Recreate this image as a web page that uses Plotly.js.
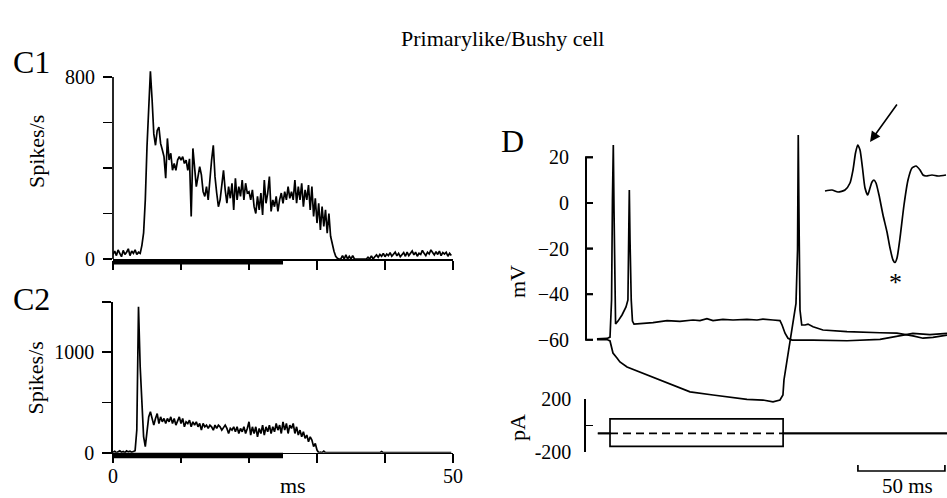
<!DOCTYPE html>
<html>
<head>
<meta charset="utf-8">
<script src="https://cdn.plot.ly/plotly-3.0.1.min.js"></script>
<style>
html,body{margin:0;padding:0;background:#fff;}
#chart{width:947px;height:498px;}
</style>
</head>
<body>
<div id="chart"></div>
<script>
// ---------------- DATA ----------------
// C1 PSTH (spikes/s), 0.25 ms bins starting at 0 ms
const c1BinMs = 0.25;
const c1Rates = [
  20, 35, 15, 40, 25, 10, 38, 20, 30, 45,
  15, 35, 25, 40, 20, 30, 25, 60, 115, 260,
  494, 700, 825, 700, 550, 500, 565, 580, 508, 480,
  450, 355, 530, 435, 465, 390, 420, 390, 435, 450,
  435, 450, 420, 435, 390, 440, 187, 486, 390, 318,
  362, 406, 370, 296, 275, 318, 260, 370, 435, 500,
  362, 290, 230, 260, 333, 390, 304, 245, 318, 267,
  333, 216, 355, 260, 318, 275, 347, 260, 333, 290,
  296, 260, 304, 230, 200, 275, 216, 290, 194, 347,
  245, 290, 362, 209, 260, 230, 275, 209, 260, 290,
  245, 296, 260, 318, 267, 296, 260, 347, 245, 318,
  260, 333, 230, 304, 260, 325, 216, 318, 187, 267,
  158, 245, 128, 230, 143, 216, 114, 200, 100, 63,
  34, 12, 3, 0, 0, 15, 0, 18, 0, 12,
  0, 15, 0, 0, 0, 0, 0, 0, 0, 0,
  8, 0, 14, 0, 10, 18, 8, 20, 12, 25,
  10, 22, 15, 28, 12, 20, 30, 14, 25, 10,
  22, 28, 12, 30, 15, 25, 35, 18, 30, 12,
  25, 20, 38, 25, 15, 30, 22, 40, 28, 18,
  32, 20, 35, 15, 28, 22, 30, 12, 25, 15
];
// C2 PSTH (spikes/s), 0.25 ms bins
const c2BinMs = 0.25;
const c2Rates = [
  5, 15, 0, 10, 20, 5, 12, 0, 18, 8,
  15, 5, 10, 20, 225, 1450, 850, 420, 160, 60,
  225, 356, 406, 323, 274, 340, 389, 290, 356, 307,
  340, 290, 340, 307, 356, 290, 340, 274, 323, 356,
  290, 340, 257, 307, 290, 323, 257, 307, 274, 307,
  257, 290, 224, 290, 257, 274, 241, 274, 257, 224,
  274, 241, 274, 257, 224, 257, 274, 241, 191, 241,
  224, 257, 208, 257, 191, 241, 208, 257, 191, 241,
  307, 175, 257, 191, 257, 158, 241, 191, 274, 175,
  257, 208, 274, 191, 257, 208, 290, 224, 274, 191,
  307, 224, 290, 191, 274, 241, 290, 191, 257, 175,
  224, 158, 208, 142, 175, 109, 158, 125, 60, 92,
  26, 0, 5, 0, 15, 0, 0, 0, 0, 0,
  0, 0, 0, 0, 0, 0, 0, 0, 0, 0,
  0, 0, 0, 0, 0, 0, 0, 0, 0, 0,
  0, 0, 0, 0, 0, 0, 0, 0, 12, 0,
  0, 0, 0, 0, 0, 0, 0, 0, 0, 0,
  0, 0, 0, 0, 0, 0, 0, 0, 0, 0,
  0, 0, 0, 0, 0, 0, 0, 0, 0, 0,
  0, 0, 0, 0, 0, 0, 0, 0, 0, 0
];
const stimulusMs = [0, 25];           // tone burst bar under the PSTHs
const psthTicksMs = [0, 10, 20, 30, 40, 50];
const c1Ticks = [0, 200, 400, 600, 800];
const c1TickText = ['0', '', '', '', '800'];
const c2Ticks = [0, 500, 1000, 1500];
const c2TickText = ['0', '', '1000', ''];
const c2XTickText = ['0', '', '', '', '', '50'];

// D: membrane potential (ms, mV) – depolarizing current step
const vDepT  = [-7.5, -1.7, 0, 0.9, 1.4, 1.9, 2.3, 2.8, 3.2, 4.6, 6.9, 9.2, 10.3, 10.8, 11.1, 11.5, 12.2, 12.9, 13.8,
                24.7, 32.8, 40.2, 47.7, 51.7, 55.7, 59.2, 64.9, 70.7, 78.7, 84.5, 87.9, 93.7, 97.7, 98.9, 100.6, 102.3,
                104.6, 116.7, 136.2, 155.2, 164.9, 174.1, 183.9, 193.7];
const vDepMv = [-59.6, -59.4, -58.8, -42.5, 1.3, 25.4, -3.1, -42.5, -53.1, -51.8, -49.1, -45.6, -42.5, -11.8, 5.7, -16.2, -42.5, -51.8, -53.1,
                -52.5, -51.6, -51.9, -51.3, -51.6, -50.7, -51.6, -51.0, -51.3, -51.0, -51.3, -50.9, -51.3, -51.6, -53.5, -57.1, -59.3,
                -60.1, -60.1, -60.4, -59.8, -58.3, -57.2, -57.7, -57.2];
// D: membrane potential – hyperpolarizing current step with rebound spike
const vHypT  = [-7.5, -1.7, 0, 1.7, 4.0, 5.7, 9.8, 17.2, 28.7, 40.2, 46.0, 59.2, 69.0, 78.7, 87.9, 93.7, 97.7, 99.4, 100.0,
                101.7, 103.4, 105.2, 106.9, 107.8, 108.2, 108.7, 109.2, 110.2, 112.1, 113.8, 116.7, 122.4, 136.2, 155.2,
                164.9, 174.1, 179.9, 185.6, 193.7];
const vHypMv = [-59.9, -59.9, -60.5, -65.8, -68.0, -69.7, -71.9, -74.1, -77.6, -80.8, -82.8, -84.2, -85.2, -86.1, -86.4, -87.2, -86.4, -84.2, -77.6,
                -68.9, -60.1, -51.3, -44.0, -20.6, 29.8, -11.8, -46.9, -53.5, -53.5, -53.1, -54.3, -55.7, -56.4, -56.9,
                -57.1, -58.3, -59.3, -58.9, -57.9];
const mvTicks = [-60, -40, -20, 0, 20];
// D: injected current (ms, pA)
const currentT     = [-7, 0, 0, 99.5, 99.5, 193.7];
const currentDepPa = [-60, -60, 50, 50, -60, -60];
const currentHypPa = [-60, -60, -160, -160, -60, -60];
const holdingT  = [0, 99.5];
const holdingPa = [-60, -60];
const paTicks = [-200, 0, 200];
const paTickText = ['-200', '', '200'];
// D: 50 ms scale bar
const scaleBarT = [142.5, 142.5, 192.5, 192.5];
const scaleBarY = [1, 0, 0, 1];
// D inset: action potential waveform (arbitrary time / amplitude units)
const spikeT = [0, 7, 13, 20, 25, 28, 30.5, 32.7, 35, 37.5, 40, 42.7, 45, 47, 49, 51, 54, 58, 62, 65, 68, 70, 72, 75, 79, 83, 87, 91, 95, 98, 101, 107, 113, 121];
const spikeV = [0, 1, -1, 1, 8, 21, 38, 46, 41, 23, 3, -4, 3, 9, 11, 8, -4, -24, -41, -57, -69, -71.5, -67, -47, -14, 11, 23, 25, 21, 16, 15, 16, 15, 16];

// ---------------- LAYOUT HELPERS ----------------
const W = 947, H = 498;
const FONT = 'Liberation Serif, Times New Roman, serif';
const px = x => x / W;
const py = y => 1 - y / H;
const black = '#000';

// D time axis geometry
const dTimeRange = [-13.8, 193.7];
const dLeftPx = 586;
const dTickLenPx = 7;
// voltage axis spans wider than the drawn -60..20 mV scale
const mvRange = [-88.8, 32];
const mvDomainPx = [405.5, 130];
const mvPxPerUnit = (mvDomainPx[0] - mvDomainPx[1]) / (mvRange[1] - mvRange[0]);
const mvPx = v => mvDomainPx[0] - (v - mvRange[0]) * mvPxPerUnit;
const mvAtPx = p => mvRange[0] + (mvDomainPx[0] - p) / mvPxPerUnit;

// bracket for the mV scale (axis line from lowest to highest tick, inward ticks), in a small
// helper subplot whose x unit is one pixel with 0 on the D axis position
const bracketBox = [dLeftPx - 10, dLeftPx + 14];
const bracketYpx = [347, 150];
const bracketX = [dTickLenPx, 0, 0, dTickLenPx];
const bracketY = [mvTicks[mvTicks.length - 1], mvTicks[mvTicks.length - 1], mvTicks[0], mvTicks[0]];
mvTicks.slice(1, -1).forEach(v => { bracketX.push(null, 0, dTickLenPx); bracketY.push(null, v, v); });

const lineT = {color: black, width: 1.7};
const lineD = {color: black, width: 1.7};
const traces = [
  {x0: 0, dx: c1BinMs, y: c1Rates, xaxis: 'x', yaxis: 'y', mode: 'lines', line: lineT},
  {x0: 0, dx: c2BinMs, y: c2Rates, xaxis: 'x2', yaxis: 'y2', mode: 'lines', line: lineT},
  {x: vDepT, y: vDepMv, xaxis: 'x3', yaxis: 'y3', mode: 'lines', line: lineD},
  {x: vHypT, y: vHypMv, xaxis: 'x3', yaxis: 'y3', mode: 'lines', line: lineD},
  {x: currentT, y: currentDepPa, xaxis: 'x3', yaxis: 'y4', mode: 'lines', line: lineD},
  {x: currentT, y: currentHypPa, xaxis: 'x3', yaxis: 'y4', mode: 'lines', line: lineD},
  {x: holdingT, y: holdingPa, xaxis: 'x3', yaxis: 'y4', mode: 'lines', line: {color: black, width: 1.7, dash: '8px,5px'}},
  {x: scaleBarT, y: scaleBarY, xaxis: 'x3', yaxis: 'y6', mode: 'lines', line: lineD},
  {x: spikeT, y: spikeV, xaxis: 'x5', yaxis: 'y5', mode: 'lines', line: {color: black, width: 1.7, shape: 'spline', smoothing: 0.6}},
  {x: bracketX, y: bracketY, xaxis: 'x9', yaxis: 'y9', mode: 'lines', line: {color: black, width: 2}, connectgaps: false}
];

const tickFont = {family: FONT, size: 20, color: black};
const baseAx = {showgrid: false, zeroline: false, fixedrange: true, linecolor: black, tickcolor: black, tickfont: tickFont};

function label(text, x, y, size, extra) {
  return Object.assign({text: text, xref: 'paper', yref: 'paper', x: px(x), y: py(y), showarrow: false,
    xanchor: 'center', yanchor: 'middle', font: {family: FONT, size: size, color: black}}, extra || {});
}

// same bracket as layout shapes (paper coordinates derived from the axis geometry)
const mvScaleShapes = [
  {type: 'line', xref: 'paper', yref: 'paper', x0: px(dLeftPx), x1: px(dLeftPx),
   y0: py(mvPx(mvTicks[0])), y1: py(mvPx(mvTicks[mvTicks.length - 1])), line: {color: black, width: 2}, layer: 'above'}
].concat(mvTicks.map(v => ({type: 'line', xref: 'paper', yref: 'paper', x0: px(dLeftPx), x1: px(dLeftPx + dTickLenPx),
   y0: py(mvPx(v)), y1: py(mvPx(v)), line: {color: black, width: 1.8}, layer: 'above'})));

const layout = {
  width: W, height: H,
  margin: {l: 0, r: 0, t: 0, b: 0, pad: 0},
  paper_bgcolor: '#fff', plot_bgcolor: 'rgba(0,0,0,0)',
  showlegend: false,
  font: {family: FONT, color: black},
  // C1
  xaxis: Object.assign({}, baseAx, {domain: [px(113), px(453)], range: [0, 50], anchor: 'y',
    showline: true, linewidth: 1.7, ticks: 'outside', ticklen: 9, tickwidth: 1.6,
    tickvals: psthTicksMs, showticklabels: false}),
  yaxis: Object.assign({}, baseAx, {domain: [py(259), py(63.35)], range: [0, 860], anchor: 'x',
    showline: false, ticks: 'outside', ticklen: 9, tickwidth: 1.6,
    tickvals: c1Ticks, ticktext: c1TickText, ticklabelstandoff: 4}),
  // C2
  xaxis2: Object.assign({}, baseAx, {domain: [px(113), px(453)], range: [0, 50], anchor: 'y2',
    showline: true, linewidth: 1.7, ticks: 'outside', ticklen: 9, tickwidth: 1.6,
    tickvals: psthTicksMs, ticktext: c2XTickText, ticklabelstandoff: -4}),
  yaxis2: Object.assign({}, baseAx, {domain: [py(452.7), py(301.7)], range: [0, 1500], anchor: 'x2',
    showline: true, linewidth: 1.7, ticks: 'outside', ticklen: 9, tickwidth: 1.6,
    tickvals: c2Ticks, ticktext: c2TickText, ticklabelstandoff: 4}),
  // D time axis (hidden) and voltage axis (labels only; bracket drawn separately)
  xaxis3: Object.assign({}, baseAx, {domain: [px(dLeftPx), 1], range: dTimeRange, anchor: 'y3', visible: false}),
  yaxis3: Object.assign({}, baseAx, {domain: [py(mvDomainPx[0]), py(mvDomainPx[1])], range: mvRange, anchor: 'x3',
    showline: false, ticks: '', tickvals: mvTicks, ticklabelstandoff: 9 + dTickLenPx}),
  yaxis4: Object.assign({}, baseAx, {domain: [py(451.7), py(399.3)], range: [-200, 200], anchor: 'x3',
    showline: true, linewidth: 1.7, ticks: 'inside', ticklen: dTickLenPx, tickwidth: 1.6, tickvals: paTicks, ticktext: paTickText,
    ticklabelstandoff: 9}),
  yaxis6: Object.assign({}, baseAx, {domain: [py(477), py(465)], range: [-1, 1], anchor: 'x3', visible: false}),
  // inset
  xaxis5: Object.assign({}, baseAx, {domain: [px(820), 1], range: [-5, 122], anchor: 'y5', visible: false}),
  yaxis5: Object.assign({}, baseAx, {domain: [py(290), py(120)], range: [-99, 71], anchor: 'x5', visible: false}),
  // bracket helper subplot
  xaxis9: Object.assign({}, baseAx, {domain: [px(bracketBox[0]), px(bracketBox[1])], range: [bracketBox[0] - dLeftPx, bracketBox[1] - dLeftPx],
    anchor: 'y9', visible: false}),
  yaxis9: Object.assign({}, baseAx, {domain: [py(bracketYpx[0]), py(bracketYpx[1])], range: [mvAtPx(bracketYpx[0]), mvAtPx(bracketYpx[1])],
    anchor: 'x9', visible: false}),
  shapes: [
    // C1 y-axis line from 0 to 800
    {type: 'line', xref: 'x domain', x0: 0, x1: 0, yref: 'y', y0: c1Ticks[0], y1: c1Ticks[c1Ticks.length - 1],
     line: {color: black, width: 1.7}, layer: 'above'},
    // stimulus bars
    {type: 'rect', xref: 'x', x0: stimulusMs[0], x1: stimulusMs[1], yref: 'y domain', ysizemode: 'pixel', yanchor: 0,
     y0: 0, y1: -5.5, fillcolor: black, line: {width: 0}},
    {type: 'rect', xref: 'x2', x0: stimulusMs[0], x1: stimulusMs[1], yref: 'y2 domain', ysizemode: 'pixel', yanchor: 0,
     y0: 0, y1: -5.5, fillcolor: black, line: {width: 0}}
  ].concat(mvScaleShapes),
  annotations: [
    label('Primarylike/Bushy cell', 502.5, 38, 22),
    label('C1', 11, 62, 32, {xanchor: 'left'}),
    label('C2', 11, 298.5, 32, {xanchor: 'left'}),
    label('D', 499, 141, 32, {xanchor: 'left'}),
    label('Spikes/s', 36, 152, 22, {textangle: -90}),
    label('Spikes/s', 35, 378.5, 22, {textangle: -90}),
    label('ms', 293, 485, 22),
    label('mV', 517, 282, 22, {textangle: -90}),
    label('pA', 517, 428, 22, {textangle: -90}),
    label('50 ms', 907, 486, 21),
    // inset arrow and asterisk
    {text: '', xref: 'x5', yref: 'y5', x: spikeT[10] + 5, y: spikeV[7] + 3, ax: 28, ay: -39, showarrow: true,
     arrowhead: 2, arrowsize: 1.3, arrowwidth: 1.6, arrowcolor: black, standoff: 0},
    {text: '*', xref: 'x5', yref: 'y5', x: spikeT[21], y: spikeV[21] - 20, showarrow: false,
     xanchor: 'center', yanchor: 'middle', font: {family: FONT, size: 26, color: black}}
  ]
};

Plotly.newPlot('chart', traces, layout, {staticPlot: true, displayModeBar: false});
</script>
</body>
</html>
